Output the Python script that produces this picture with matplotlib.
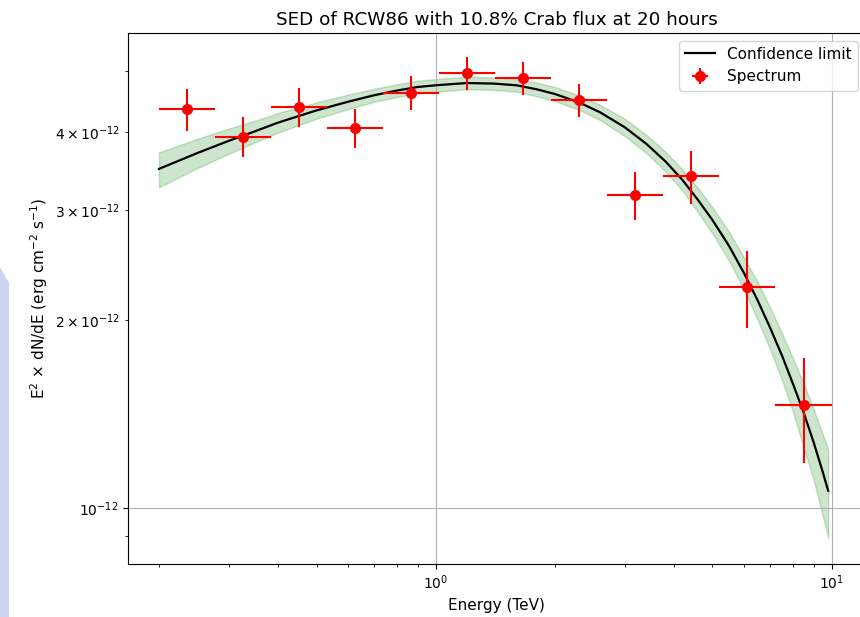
import numpy as np
import matplotlib.pyplot as plt
from matplotlib.patches import Polygon

plt.rcParams['font.size'] = 11
plt.rcParams['xtick.labelsize'] = 10
plt.rcParams['ytick.labelsize'] = 10

# spectrum points (TeV, 1e-12 erg cm-2 s-1)
energy = [0.235, 0.326, 0.452, 0.625, 0.866, 1.20, 1.66, 2.30, 3.19, 4.42, 6.12, 8.49]
e_lo = [0.200, 0.277, 0.384, 0.531, 0.736, 1.02, 1.41, 1.96, 2.71, 3.76, 5.20, 7.21]
e_hi = [0.277, 0.384, 0.531, 0.736, 1.02, 1.41, 1.96, 2.71, 3.76, 5.20, 7.21, 10.0]
flux = [4.35, 3.93, 4.39, 4.06, 4.62, 4.97, 4.88, 4.50, 3.17, 3.40, 2.26, 1.46]
flux_err = [0.34, 0.29, 0.32, 0.29, 0.29, 0.30, 0.30, 0.28, 0.28, 0.33, 0.32, 0.28]

# model curve and its confidence band
model_e = [0.2, 0.25, 0.3, 0.35, 0.4, 0.5, 0.6, 0.7, 0.8, 0.9, 1.0, 1.2, 1.4, 1.6, 1.8,
           2.0, 2.3, 2.6, 3.0, 3.4, 3.8, 4.2, 4.6, 5.0, 5.5, 6.0, 6.5, 7.0, 7.5, 8.0,
           8.5, 9.0, 9.5, 9.8]
model_f = [3.49, 3.70, 3.87, 4.01, 4.14, 4.33, 4.47, 4.58, 4.66, 4.72, 4.75, 4.79, 4.78,
           4.75, 4.68, 4.60, 4.46, 4.30, 4.07, 3.83, 3.59, 3.35, 3.11, 2.89, 2.63, 2.38,
           2.15, 1.94, 1.75, 1.575, 1.42, 1.275, 1.14, 1.065]
band_hi = [3.71, 3.90, 4.05, 4.17, 4.29, 4.46, 4.59, 4.69, 4.77, 4.83, 4.86, 4.90, 4.89,
           4.86, 4.80, 4.72, 4.58, 4.42, 4.20, 3.96, 3.72, 3.48, 3.25, 3.03, 2.77, 2.52,
           2.30, 2.09, 1.90, 1.73, 1.58, 1.44, 1.31, 1.24]
band_lo = [3.26, 3.50, 3.69, 3.85, 3.99, 4.20, 4.35, 4.47, 4.55, 4.61, 4.64, 4.68, 4.67,
           4.64, 4.56, 4.48, 4.34, 4.18, 3.94, 3.70, 3.46, 3.22, 2.97, 2.75, 2.49, 2.24,
           2.00, 1.79, 1.60, 1.42, 1.25, 1.11, 0.97, 0.895]

scale = 1e-12
energy = np.array(energy)
xerr = [energy - np.array(e_lo), np.array(e_hi) - energy]

fig = plt.figure(figsize=(8.6, 6.17), dpi=100)
ax = fig.add_axes([0.1488, 0.0859, 0.858, 0.8606])

# bit of screenshot background at the left edge
fig.patches.append(Polygon([(0, 1 - 267/617), (9/860, 1 - 283/617), (9/860, 0), (0, 0)],
                           closed=True, transform=fig.transFigure, facecolor='#c8d6f0',
                           edgecolor='none'))

ax.fill_between(model_e, np.array(band_lo) * scale, np.array(band_hi) * scale,
                color='g', alpha=0.2)
ax.plot(model_e, np.array(model_f) * scale, 'k-', lw=1.6, label='Confidence limit')
ax.errorbar(energy, np.array(flux) * scale, xerr=xerr, yerr=np.array(flux_err) * scale,
            fmt='o', color='red', ms=7, elinewidth=1.5, label='Spectrum')

ax.set_xscale('log')
ax.set_yscale('log')
ax.set_xlim(0.167, 12.2)
ax.set_ylim(0.813e-12, 5.76e-12)
ax.grid(True)
ax.set_xlabel('Energy (TeV)')
ax.set_ylabel(r'E$^2$ $\times$ dN/dE (erg cm$^{-2}$ s$^{-1}$)')
ax.set_title('SED of RCW86 with 10.8% Crab flux at 20 hours')
ax.legend(loc='upper right')

fig.savefig('out.png', dpi=100)
